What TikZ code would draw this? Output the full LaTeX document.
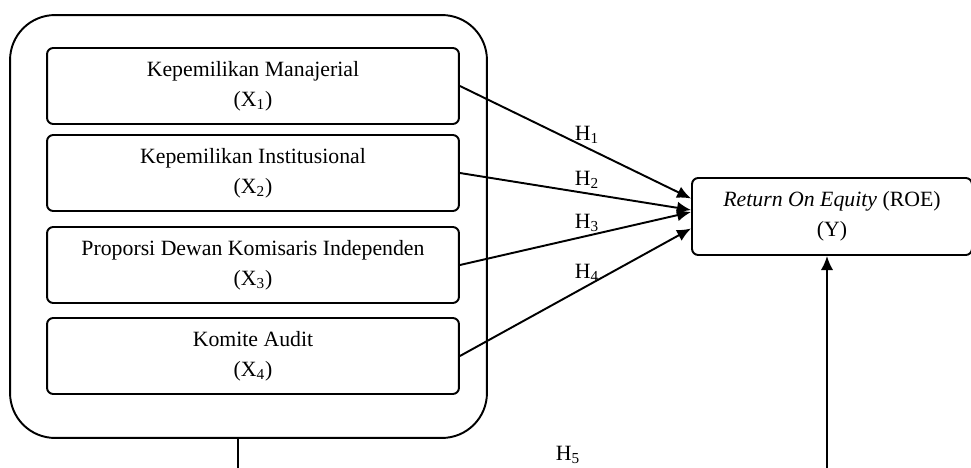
\documentclass[tikz,border=0pt]{standalone}
\usepackage{fontspec}
\setmainfont{Liberation Serif}
\usetikzlibrary{positioning,arrows.meta}

\begin{document}
\begin{tikzpicture}[x=0.02cm, y=-0.02cm,
    every node/.style={font=\fontsize{12.4}{17}\selectfont},
    varbox/.style={draw, line width=1.1pt, rounded corners=3.5pt, minimum width=8.24cm, minimum height=1.52cm, align=center},
    hyp/.style={-{Latex[length=8pt,width=7pt]}, line width=1.1pt},
    hlabel/.style={above, inner sep=2pt}]
    \useasboundingbox (0,0) rectangle (971,467);
    \clip (0,0) rectangle (971,467);

    % Group of independent variables
    \node[draw, line width=1.1pt, rounded corners=0.9cm, minimum width=9.54cm, minimum height=8.46cm] (grp) at (248.5,226.5) {};
    \node[varbox] (x1) at (253,86) {Kepemilikan Manajerial\\(X\textsubscript{1})};
    \node[varbox] (x2) at (253,173) {Kepemilikan Institusional\\(X\textsubscript{2})};
    \node[varbox] (x3) at (253,265) {Proporsi Dewan Komisaris Independen\\(X\textsubscript{3})};
    \node[varbox] (x4) at (253,356) {Komite Audit\\(X\textsubscript{4})};

    % Dependent variable
    \node[varbox, minimum width=5.6cm, minimum height=1.54cm] (roe) at (832,216.5) {\textit{Return On Equity} (ROE)\\(Y)};

    % Hypotheses
    \draw[hyp] (x1.east) -- ([yshift=0.36cm]roe.west) node[hlabel, pos=0.55] {H\textsubscript{1}};
    \draw[hyp] (x2.east) -- ([yshift=0.13cm]roe.west) node[hlabel, pos=0.55] {H\textsubscript{2}};
    \draw[hyp] (x3.east) -- ([yshift=0.09cm]roe.west) node[hlabel, pos=0.55] {H\textsubscript{3}};
    \draw[hyp] (x4.east) -- ([yshift=-0.24cm]roe.west) node[hlabel, pos=0.55] {H\textsubscript{4}};

    % Simultaneous effect
    \coordinate (lo) at (238,482);
    \coordinate (ro) at (827,482);
    \draw[hyp] (grp.south -| lo) -- (lo) -- (ro) -- (roe.south -| ro);
    \node (h5) at (568,455) {H\textsubscript{5}};
\end{tikzpicture}
\end{document}
